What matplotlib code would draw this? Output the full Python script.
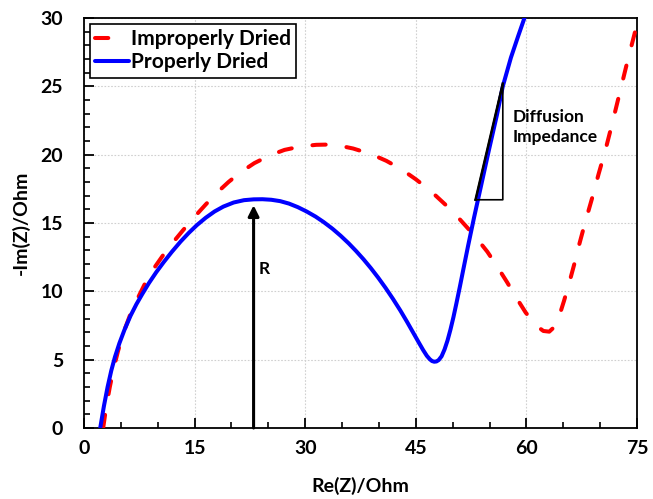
import matplotlib
matplotlib.use("Agg")
import matplotlib.pyplot as plt
from matplotlib.ticker import MultipleLocator

# ---- data ----
proper_x = [2.2, 2.7, 3.2, 3.7, 4.2, 4.8, 5.5, 6.3, 7.1, 7.9, 8.8, 9.8, 10.8, 11.9,
            13.1, 14.2, 15.3, 16.5, 17.7, 18.9, 20.3, 21.7, 23.0, 24.2, 25.4, 26.6,
            27.8, 29.0, 30.2, 31.4, 32.5, 33.7, 34.8, 35.9, 36.9, 37.9, 38.9, 39.9,
            40.9, 41.9, 42.9, 43.8, 44.6, 45.4, 46.0, 46.5, 46.9, 47.2, 47.5, 47.8,
            48.1, 48.5, 48.9, 49.3, 49.7, 50.1, 50.5, 51.0, 51.5, 52.1, 52.9, 53.8,
            54.9, 56.0, 56.8, 57.9, 58.9, 59.8]
proper_y = [0.0, 1.6, 3.0, 4.2, 5.2, 6.2, 7.2, 8.2, 9.05, 9.8, 10.6, 11.4, 12.13, 12.88,
            13.64, 14.27, 14.84, 15.38, 15.84, 16.2, 16.5, 16.67, 16.73, 16.74, 16.7, 16.6,
            16.42, 16.16, 15.84, 15.47, 15.07, 14.58, 14.07, 13.51, 12.95, 12.35, 11.7, 11.0,
            10.25, 9.45, 8.6, 7.78, 7.02, 6.26, 5.7, 5.28, 5.03, 4.9, 4.85, 4.87,
            4.97, 5.25, 5.75, 6.4, 7.2, 8.1, 9.1, 10.4, 11.75, 13.35, 15.4, 17.6,
            20.3, 22.9, 25.0, 27.1, 28.7, 30.1]

improper_x = [2.6, 3.0, 3.5, 4.0, 4.6, 5.3, 6.2, 7.2, 8.3, 9.5, 10.8, 12.1, 13.4,
              14.9, 16.5, 18.0, 19.6, 21.2, 23.1, 25.2, 27.2, 29.4, 31.5, 33.2, 35.0,
              36.5, 38.9, 41.0, 43.0, 45.0, 47.0, 49.0, 51.0, 53.0, 54.7, 56.0, 57.4,
              58.5, 59.9, 61.3, 62.3, 63.1, 63.8, 64.4, 65.1, 65.8, 66.5, 67.2, 68.0,
              68.9, 69.8, 70.7, 71.6, 72.6, 73.6, 74.6, 75.3]
improper_y = [0.0, 1.5, 3.0, 4.3, 5.6, 6.9, 8.2, 9.4, 10.6, 11.7, 12.7, 13.6, 14.45,
              15.4, 16.35, 17.2, 18.0, 18.7, 19.38, 19.95, 20.35, 20.6, 20.72, 20.74, 20.62,
              20.45, 20.05, 19.55, 18.95, 18.2, 17.35, 16.35, 15.25, 14.05, 12.9, 11.85, 10.65,
              9.65, 8.45, 7.5, 7.1, 7.05, 7.4, 8.1, 9.3, 10.6, 12.0, 13.5, 15.1,
              16.8, 18.6, 20.3, 22.2, 24.4, 26.6, 28.7, 30.2]

labels = ["Improperly Dried", "Properly Dried"]
x_ticks = [0, 15, 30, 45, 60, 75]
y_ticks = [0, 5, 10, 15, 20, 25, 30]

# annotation geometry (data coordinates)
arrow_x = 23.0
arrow_y = [0.0, 16.3]
tri_x = [53.1, 56.8, 56.8, 53.1]
tri_y = [16.7, 25.2, 16.7, 16.7]

font = ["Lato", "DejaVu Sans"]
plt.rcParams["font.family"] = font
plt.rcParams["font.weight"] = "bold"

fig = plt.figure(figsize=(6.53, 4.99), dpi=100)
ax = fig.add_axes([84 / 653, (499 - 428) / 499, 553 / 653, 410 / 499])

ax.plot(improper_x, improper_y, color="#ff0000", lw=2.9, dashes=(3.3, 5.2),
        dash_capstyle="round", solid_joinstyle="round", label=labels[0], zorder=3)
ax.plot(proper_x, proper_y, color="#0000ff", lw=2.9, label=labels[1],
        solid_capstyle="round", solid_joinstyle="round", zorder=4)

ax.plot(tri_x, tri_y, color="black", lw=1.2, zorder=5)
ax.plot(tri_x[:2], tri_y[:2], color="black", lw=1.8, zorder=5)

ax.annotate("", xy=(arrow_x, arrow_y[1]), xytext=(arrow_x, arrow_y[0]),
            arrowprops=dict(arrowstyle="-|>", lw=2.2, color="black",
                            mutation_scale=16, shrinkA=0, shrinkB=0), zorder=6)
ax.text(arrow_x + 0.7, 11.6, "R", fontsize=12.5, fontweight="bold", va="center",
        ha="left")
ax.text(58.1, 22.0, "Diffusion\nImpedance", fontsize=12.5, fontweight="bold",
        va="center", ha="left", linespacing=1.3)

ax.set_xlim(0, 75)
ax.set_ylim(0, 30)
ax.set_xticks(x_ticks)
ax.set_yticks(y_ticks)
ax.xaxis.set_minor_locator(MultipleLocator(5))
ax.yaxis.set_minor_locator(MultipleLocator(1))
ax.tick_params(axis="both", which="major", direction="in", length=7, width=1.3,
               labelsize=14, top=False, right=False)
ax.tick_params(axis="both", which="minor", direction="in", length=4.5, width=1.2,
               top=False, right=False)
ax.tick_params(axis="x", which="major", pad=9)
ax.tick_params(axis="y", which="major", pad=15)
for lab in ax.get_xticklabels() + ax.get_yticklabels():
    lab.set_fontweight("bold")

ax.grid(True, which="major", color="#d0d0d0", linestyle=(0, (1.5, 1.5)), lw=0.8)
ax.set_axisbelow(True)
for sp in ax.spines.values():
    sp.set_linewidth(1.3)
    sp.set_color("black")

ax.set_xlabel("Re(Z)/Ohm", fontsize=14, fontweight="bold", labelpad=14)
ax.set_ylabel("-Im(Z)/Ohm", fontsize=14, fontweight="bold", labelpad=8)

leg = ax.legend(loc="upper left", bbox_to_anchor=(0.011, 0.985), borderaxespad=0,
                frameon=True, fancybox=False, framealpha=1, edgecolor="black",
                prop=dict(family=font, weight="bold", size=15),
                handlelength=1.6, handletextpad=0.1, borderpad=0.25,
                labelspacing=0.15)
leg.get_frame().set_linewidth(1.2)

fig.savefig("out.png", dpi=100)
